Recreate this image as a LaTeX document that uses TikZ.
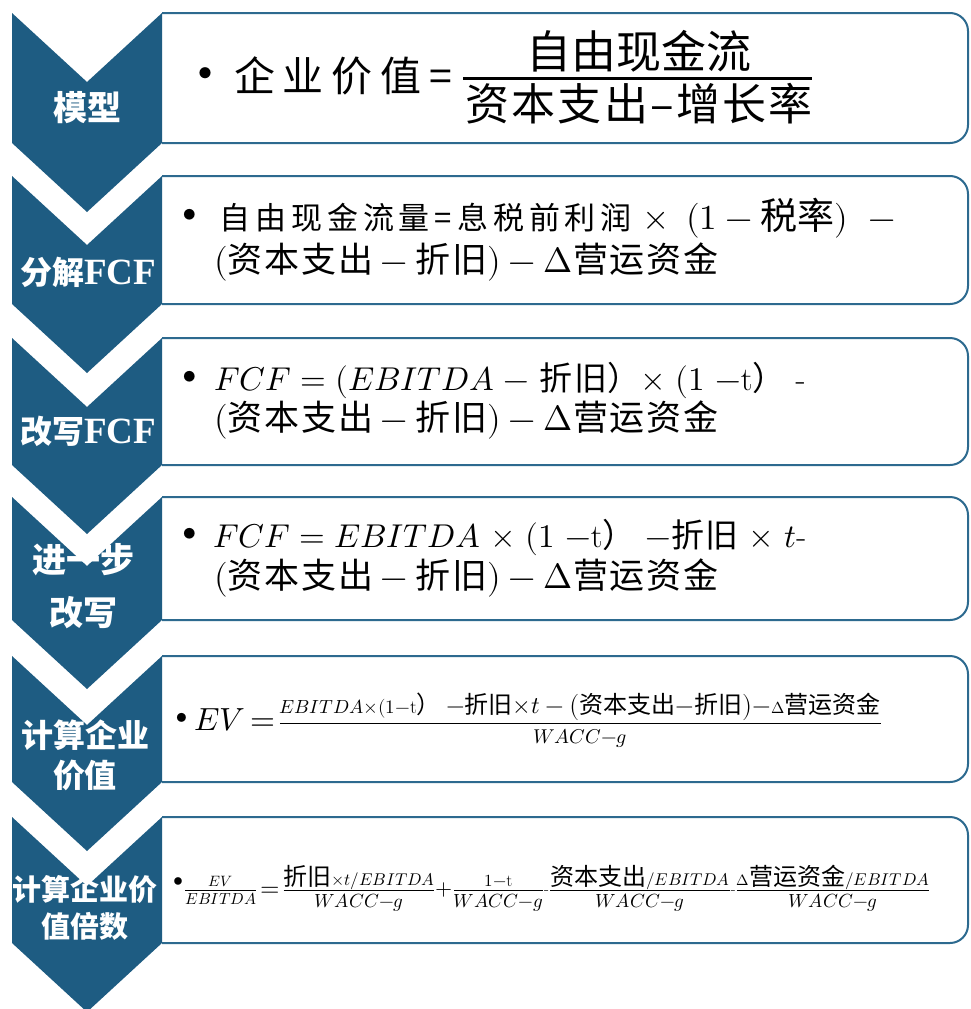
\documentclass[tikz,border=0pt]{standalone}
\usepackage{fontspec}
\usepackage{unicode-math}
\setmathfont{Latin Modern Math}
\newfontfamily\cjk{Noto Sans CJK SC}
\newfontfamily\cjkls{Noto Sans CJK SC}[LetterSpace=16]
\newfontfamily\cjkwide{Noto Sans CJK SC}[LetterSpace=19]
\newfontfamily\cjkla{Noto Sans CJK SC}[LetterSpace=5]
\newfontfamily\lserif{Liberation Serif}
\definecolor{chev}{HTML}{1E5C82}
\definecolor{boxline}{HTML}{2D6A8F}
\newcommand\zh[1]{\mbox{\cjkla #1}}
\newcommand\fs[2]{\mbox{\fontsize{#1}{#1}\selectfont #2}}
\newcommand\Z[2]{\mbox{\fontsize{#1}{#1}\selectfont\cjk #2}}
\newcommand\den[1]{\fs{19}{\rule{0pt}{16pt}$WACC{-}g$}}
\tikzset{
  panel/.style={draw=boxline, line width=2pt, rounded corners=18pt, fill=white},
  chevshape/.style={fill=chev},
  lab/.style={text=white, align=center, inner sep=0pt},
  txt/.style={anchor=west, inner sep=0pt, text=black},
  bul/.style={inner sep=0pt, text=black}
}
\begin{document}
\begin{tikzpicture}[x=1pt,y=-1pt]
\useasboundingbox (0,0) rectangle (970,1009);
\fill[white] (0,0) rectangle (970,1009);
\foreach \t/\b in {13/143,176/304,338/465,497/620,656/782,817/943}{
  \draw[panel] (162,\t) -- (968,\t) -- (968,\b) -- (162,\b);
  \fill[chevshape] (12,\t) -- (87,\t+69) -- (162,\t) -- (162,\b) -- (87,\b+69) -- (12,\b) -- cycle;
}
% chevron labels
\node[lab, font=\cjk\bfseries\fontsize{34}{34}\selectfont] (l1) at (87,108) {模型};
\node[lab, font=\cjk\bfseries\fontsize{32}{32}\selectfont] (l2) at (88,272) {分解{\lserif\bfseries\fontsize{37}{37}\selectfont FCF}};
\node[lab, font=\cjk\bfseries\fontsize{32}{32}\selectfont] (l3) at (88,431) {改写{\lserif\bfseries\fontsize{37}{37}\selectfont FCF}};
\node[lab, font=\cjk\bfseries\fontsize{34}{53}\selectfont] (l4) at (83,586) {进一步\\改写};
\node[lab, font=\cjk\bfseries\fontsize{32}{40}\selectfont] (l5) at (85,755) {计算企业\\价值};
\node[lab, font=\cjk\bfseries\fontsize{29}{37}\selectfont] (l6) at (85,908) {计算企业价\\值倍数};
% row 1
\node[bul, font=\fontsize{50}{50}\selectfont] (b1) at (205,77) {\textbullet};
\node[txt, font=\cjkwide\fontsize{41}{41}\selectfont] (t1a) at (234,76) {企业价值=};
\node[inner sep=0pt, font=\cjk\fontsize{45}{45}\selectfont] (n1) at (639,51) {自由现金流};
\node[inner sep=0pt, font=\cjkla\fontsize{44}{44}\selectfont] (d1) at (639,104) {资本支出–增长率};
\draw[line width=3pt] (463,78) -- (812,78);
% row 2
\node[bul, font=\fontsize{48}{48}\selectfont] (b2) at (190,218) {\textbullet};
\node[txt, font=\fontsize{35}{35}\selectfont] (t2a) at (219,218) {{\cjkls\fontsize{31}{31}\selectfont 自由现金流量=息税前利润}\ $\times$\ \,$(1 - \Z{37}{税率})$\ \ $-$};
\node[txt, font=\fontsize{35}{35}\selectfont] (t2b) at (214,262) {$(\zh{资本支出} - \zh{折旧}) - \Delta\zh{营运资金}$};
% row 3
\node[bul, font=\fontsize{48}{48}\selectfont] (b3) at (190,380) {\textbullet};
\node[txt, font=\fontsize{33}{33}\selectfont] (t3a) at (214,380) {$FCF\;{=}\;(EBITDA\ {-}\ \zh{折旧}\zh{）}{\times}\ (1\ {-}\mathrm{t}\zh{）}$\ -};
\node[txt, font=\fontsize{35}{35}\selectfont] (t3b) at (214,420) {$(\zh{资本支出} - \zh{折旧}) - \Delta\zh{营运资金}$};
% row 4
\node[bul, font=\fontsize{48}{48}\selectfont] (b4) at (190,537) {\textbullet};
\node[txt, font=\fontsize{33}{33}\selectfont] (t4a) at (213,537) {$FCF\;{=}\;EBITDA\ {\times}\ (1\ {-}\mathrm{t}\zh{）}\ {-}\zh{折旧}\ {\times}\ t$-};
\node[txt, font=\fontsize{35}{35}\selectfont] (t4b) at (214,578) {$(\zh{资本支出} - \zh{折旧}) - \Delta\zh{营运资金}$};
% row 5
\node[bul, font=\fontsize{40}{40}\selectfont] (b5) at (182,721) {\textbullet};
\node[txt, font=\fontsize{20}{20}\selectfont] (t5) at (194,720) {\raisebox{-3pt}{\fs{32}{$EV\,{=}$}}\,$\frac{\fs{19}{$EBITDA{\times}(1{-}\mathrm{t}$}\Z{24}{）\ $-$折旧$\times t-\big($资本支出$-$折旧$\big)-$}\fs{16}{$\Delta$}\Z{24}{营运资金}\rule[-5pt]{0pt}{1pt}}{\fs{20}{\rule{0pt}{19pt}$WACC{-}g$}}$};
% row 6
\node[bul, font=\fontsize{34}{34}\selectfont] (b6) at (178,884) {\textbullet};
\node[txt, font=\fontsize{17}{17}\selectfont] (t6) at (184,888) {$\frac{\fs{15}{$EV$}\rule[-3pt]{0pt}{1pt}}{\fs{16}{\rule{0pt}{13pt}$EBITDA$}}$\,\raisebox{-2pt}{\fs{25}{$=$}}\,$\frac{\Z{24}{折旧}\fs{17}{$\times t/EBITDA$}\rule[-2pt]{0pt}{1pt}}{\den{}}$\raisebox{-1pt}{\fs{22}{$+$}}$\frac{\fs{17}{$1{-}\mathrm{t}$}\rule[-3pt]{0pt}{1pt}}{\den{}}$\fs{16}{-}$\frac{\Z{24}{资本支出}\fs{17}{$/EBITDA$}\rule[-2pt]{0pt}{1pt}}{\den{}}$\fs{16}{-}$\frac{\fs{15}{$\Delta$}\Z{24}{营运资金}\fs{17}{$/EBITDA$}\rule[-2pt]{0pt}{1pt}}{\den{}}$};
\end{tikzpicture}
\end{document}
